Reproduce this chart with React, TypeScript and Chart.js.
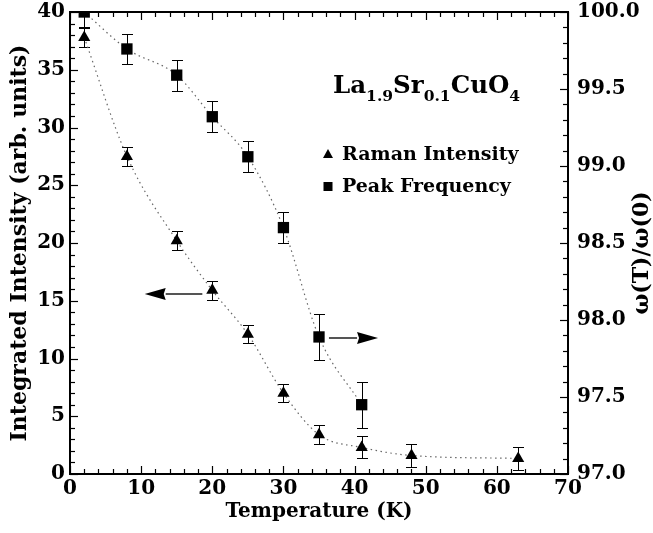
import { useEffect, useRef } from "react";
import { Chart, registerables } from "chart.js";

Chart.register(...registerables);

// ---- data ----
const intensityTemperatures = [2, 8, 15, 20, 25, 30, 35, 41, 48, 63];
const ramanIntensity = [37.8, 27.5, 20.2, 15.9, 12.1, 7.0, 3.4, 2.3, 1.6, 1.35];
const ramanIntensityError = [0.85, 0.8, 0.8, 0.8, 0.8, 0.8, 0.8, 0.95, 1.0, 1.0];

const frequencyTemperatures = [2, 8, 15, 20, 25, 30, 35, 41];
const peakFrequency = [100.0, 99.76, 99.59, 99.32, 99.06, 98.6, 97.89, 97.45];
const peakFrequencyError = [0.1, 0.1, 0.1, 0.1, 0.1, 0.1, 0.15, 0.15];

const xTickStep = 10;
const xMinorStep = 2;
const leftTickStep = 5;
const leftMinorStep = 1;
const rightTickStep = 0.5;
const rightMinorStep = 0.1;

// arrow annotations in data units: [xFrom, xTo, y]
const intensityArrow = [18.6, 10.5, 15.6];
const frequencyArrow = [36.4, 43.3, 97.88];

const FONT = "'DejaVu Serif', serif";

const framePlugin = {
  id: "frameAndExtras",
  beforeDatasetsDraw(chart: any) {
    const { ctx, chartArea: a } = chart;
    const x = chart.scales.x;
    ctx.save();
    ctx.beginPath();
    ctx.rect(a.left, a.top, a.right - a.left, a.bottom - a.top);
    ctx.clip();
    ctx.strokeStyle = "#000";
    ctx.lineWidth = 1;
    const drawErr = (xs: number[], ys: number[], es: number[], scale: any) => {
      for (let i = 0; i < xs.length; i++) {
        const px = Math.round(x.getPixelForValue(xs[i])) + 0.5;
        const top = Math.round(scale.getPixelForValue(ys[i] + es[i])) + 0.5;
        const bot = Math.round(scale.getPixelForValue(ys[i] - es[i])) + 0.5;
        ctx.beginPath();
        ctx.moveTo(px, top);
        ctx.lineTo(px, bot);
        ctx.moveTo(px - 5.5, top);
        ctx.lineTo(px + 5.5, top);
        ctx.moveTo(px - 5.5, bot);
        ctx.lineTo(px + 5.5, bot);
        ctx.stroke();
      }
    };
    drawErr(intensityTemperatures, ramanIntensity, ramanIntensityError, chart.scales.y);
    drawErr(frequencyTemperatures, peakFrequency, peakFrequencyError, chart.scales.y1);
    ctx.restore();
  },
  afterDraw(chart: any) {
    const { ctx, chartArea: a } = chart;
    const sx = chart.scales.x;
    const sy = chart.scales.y;
    const sy1 = chart.scales.y1;
    ctx.save();
    ctx.strokeStyle = "#000";
    // ticks (inward, minor + major)
    ctx.lineWidth = 1.2;
    const eps = 1e-6;
    for (let v = sx.min; v <= sx.max + eps; v += xMinorStep) {
      const major = Math.abs(v / xTickStep - Math.round(v / xTickStep)) < eps;
      const len = major ? 8 : 5;
      const px = Math.round(sx.getPixelForValue(v)) + 0.5;
      ctx.beginPath();
      ctx.moveTo(px, a.bottom);
      ctx.lineTo(px, a.bottom - len);
      ctx.moveTo(px, a.top);
      ctx.lineTo(px, a.top + len);
      ctx.stroke();
    }
    for (let v = sy.min; v <= sy.max + eps; v += leftMinorStep) {
      const major = Math.abs(v / leftTickStep - Math.round(v / leftTickStep)) < eps;
      const len = major ? 8 : 5;
      const py = Math.round(sy.getPixelForValue(v)) + 0.5;
      ctx.beginPath();
      ctx.moveTo(a.left, py);
      ctx.lineTo(a.left + len, py);
      ctx.stroke();
    }
    for (let v = sy1.min; v <= sy1.max + eps; v += rightMinorStep) {
      const major = Math.abs(v / rightTickStep - Math.round(v / rightTickStep)) < 1e-4;
      const len = major ? 8 : 5;
      const py = Math.round(sy1.getPixelForValue(v)) + 0.5;
      ctx.beginPath();
      ctx.moveTo(a.right, py);
      ctx.lineTo(a.right - len, py);
      ctx.stroke();
    }
    // frame
    ctx.lineWidth = 2;
    ctx.strokeRect(a.left, a.top, a.right - a.left, a.bottom - a.top);

    // arrows
    const drawArrow = (arr: number[], scale: any) => {
      const x0 = sx.getPixelForValue(arr[0]);
      const x1 = sx.getPixelForValue(arr[1]);
      const y = Math.round(scale.getPixelForValue(arr[2]));
      const dir = Math.sign(x1 - x0);
      const headLen = 21;
      const baseX = x1 - dir * headLen;
      ctx.strokeStyle = "#555";
      ctx.lineWidth = 2;
      ctx.beginPath();
      ctx.moveTo(x0, y);
      ctx.lineTo(baseX, y);
      ctx.stroke();
      ctx.fillStyle = "#000";
      ctx.beginPath();
      ctx.moveTo(x1, y);
      ctx.lineTo(baseX, y - 6);
      ctx.lineTo(baseX + dir * 2, y);
      ctx.lineTo(baseX, y + 6);
      ctx.closePath();
      ctx.fill();
    };
    drawArrow(intensityArrow, sy);
    drawArrow(frequencyArrow, sy1);

    // formula title
    ctx.fillStyle = "#000";
    ctx.textBaseline = "alphabetic";
    ctx.textAlign = "left";
    const parts: [string, boolean][] = [
      ["La", false], ["1.9", true], ["Sr", false], ["0.1", true], ["CuO", false], ["4", true],
    ];
    let tx = a.left + 263;
    const ty = a.top + 81;
    for (const [t, sub] of parts) {
      ctx.font = sub ? `bold 15.5px ${FONT}` : `bold 24.5px ${FONT}`;
      ctx.fillText(t, tx, sub ? ty + 8 : ty);
      tx += ctx.measureText(t).width;
    }

    // legend
    ctx.font = `bold 19px ${FONT}`;
    const lx = a.left + 258;
    ctx.fillText("Raman Intensity", a.left + 272, a.top + 148);
    ctx.fillText("Peak Frequency", a.left + 272, a.top + 180);
    ctx.beginPath();
    ctx.moveTo(lx, a.top + 137);
    ctx.lineTo(lx + 5, a.top + 146);
    ctx.lineTo(lx - 5, a.top + 146);
    ctx.closePath();
    ctx.fill();
    ctx.fillRect(lx - 4.5, a.top + 170, 9, 9);

    // right axis title (reads bottom to top)
    ctx.save();
    ctx.translate(642, (a.top + a.bottom) / 2 + 10);
    ctx.rotate(-Math.PI / 2);
    ctx.textAlign = "center";
    ctx.textBaseline = "middle";
    ctx.font = `bold 22px ${FONT}`;
    ctx.fillText("\u03c9(T)/\u03c9(0)", 0, 0);
    ctx.restore();
    ctx.restore();
  },
};

export default function App() {
  const ref = useRef<HTMLCanvasElement | null>(null);
  useEffect(() => {
    if (!ref.current) return;
    const tickFont = { family: FONT, size: 20, weight: "bold" as const };
    const chart = new Chart(ref.current, {
      type: "line",
      data: {
        datasets: [
          {
            label: "Raman Intensity",
            data: intensityTemperatures.map((t, i) => ({ x: t, y: ramanIntensity[i] })),
            yAxisID: "y",
            borderColor: "#666",
            borderWidth: 1.2,
            borderDash: [1.5, 3.5],
            cubicInterpolationMode: "monotone",
            pointStyle: "triangle",
            pointRadius: 7,
            pointBackgroundColor: "#000",
            pointBorderColor: "#000",
            pointBorderWidth: 0,
            fill: false,
          },
          {
            label: "Peak Frequency",
            data: frequencyTemperatures.map((t, i) => ({ x: t, y: peakFrequency[i] })),
            yAxisID: "y1",
            borderColor: "#666",
            borderWidth: 1.2,
            borderDash: [1.5, 3.5],
            cubicInterpolationMode: "monotone",
            pointStyle: "rect",
            pointRadius: 8,
            pointBackgroundColor: "#000",
            pointBorderColor: "#000",
            pointBorderWidth: 0,
            fill: false,
          },
        ],
      },
      options: {
        animation: false,
        responsive: false,
        maintainAspectRatio: false,
        layout: { padding: { top: 12, left: 0, right: 0, bottom: 0 } },
        plugins: { legend: { display: false }, tooltip: { enabled: false } },
        scales: {
          x: {
            type: "linear",
            position: "bottom",
            min: 0,
            max: 70,
            grid: { display: false, drawTicks: false },
            border: { display: false },
            ticks: { stepSize: xTickStep, font: tickFont, color: "#000", padding: 3, maxRotation: 0 },
            title: {
              display: true,
              text: "Temperature (K)",
              color: "#000",
              font: { family: FONT, size: 20, weight: "bold" },
              padding: { top: 0, bottom: 9 },
            },
            afterFit: (s: any) => { s.height = 59; s.paddingLeft = 0; s.paddingRight = 0; },
          },
          y: {
            type: "linear",
            position: "left",
            min: 0,
            max: 40,
            grid: { display: false, drawTicks: false },
            border: { display: false },
            ticks: { stepSize: leftTickStep, font: tickFont, color: "#000", padding: 5 },
            title: {
              display: true,
              text: "Integrated Intensity (arb. units)",
              color: "#000",
              font: { family: FONT, size: 22, weight: "bold" },
              padding: { top: 7, bottom: 0 },
            },
            afterFit: (s: any) => { s.width = 70; s.paddingTop = 0; s.paddingBottom = 0; },
          },
          y1: {
            type: "linear",
            position: "right",
            min: 97,
            max: 100,
            grid: { display: false, drawTicks: false },
            border: { display: false },
            ticks: {
              stepSize: rightTickStep,
              font: tickFont,
              color: "#000",
              padding: 9,
              callback: (v: any) => Number(v).toFixed(1),
            },
            afterFit: (s: any) => { s.width = 85; s.paddingTop = 0; s.paddingBottom = 0; },
          },
        },
      },
      plugins: [framePlugin],
    });
    return () => chart.destroy();
  }, []);
  return (
    <div style={{ position: "fixed", left: 0, top: 0, width: 653, height: 533, background: "#fff" }}>
      <canvas ref={ref} width={653} height={533} style={{ width: 653, height: 533 }} />
    </div>
  );
}
